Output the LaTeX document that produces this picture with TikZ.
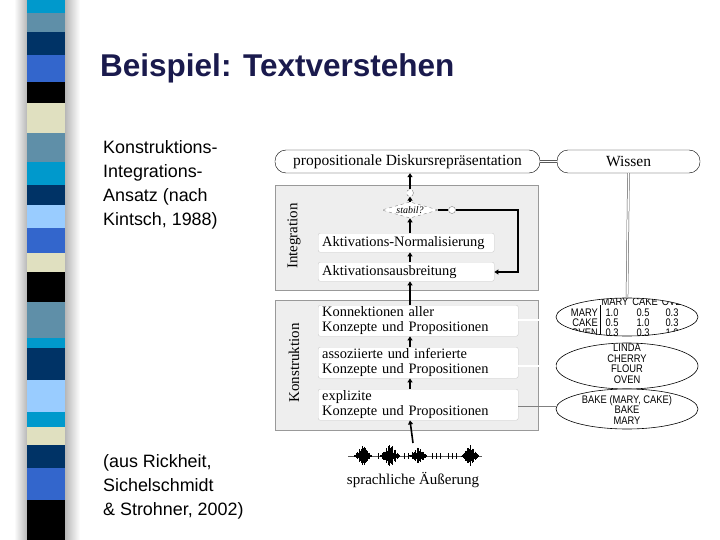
\documentclass[tikz,border=0pt]{standalone}
\usepackage{fontspec}
\setmainfont{Liberation Serif}
\newfontfamily\arial{Liberation Sans}
\usetikzlibrary{shapes.geometric,arrows.meta}
\definecolor{cya}{HTML}{0099CC}
\definecolor{stl}{HTML}{5F8FA8}
\definecolor{nav}{HTML}{003366}
\definecolor{blu}{HTML}{3366CC}
\definecolor{crm}{HTML}{E0E0C0}
\definecolor{lbl}{HTML}{99CCFF}
\definecolor{ttl}{HTML}{1A1A4D}
\definecolor{gbox}{HTML}{EEEEEE}
\tikzset{
  stage/.style={draw=gray!80,fill=gbox,line width=0.7pt},
  wbox/.style={draw=gray!40,fill=white,rounded corners=2pt,align=left,inner sep=0pt,inner xsep=4pt,font=\fontsize{14.4}{15}\selectfont},
  top/.style={draw,rounded corners=11pt,fill=white,font=\fontsize{15.5}{16}\selectfont},
  arr/.style={line width=1.6pt,-{Triangle[length=4pt,width=5pt]}},
  ell/.style={draw,ellipse,line width=0.6pt},
  dbl/.style={double,double distance=1.4pt,draw=gray!70!black,line width=0.5pt},
  side/.style={font=\arial\fontsize{17.9}{24}\selectfont,align=left,anchor=north west,inner sep=0pt},
  etext/.style={font=\arial\fontsize{11}{10.5}\selectfont,inner sep=0pt,xscale=0.85}
}
\begin{document}
\begin{tikzpicture}[x=1pt,y=-1pt]
\useasboundingbox (0,0) rectangle (720,540);
\fill[white] (0,0) rectangle (720,540);
% stripe bar
\shade[left color=white,right color=gray!60] (14,0) rectangle (28,540);
\shade[left color=gray!60,right color=white] (64,0) rectangle (80,540);
\foreach \a/\b/\c in {0/13/cya,13/32/stl,32/55/nav,55/82/blu,82/103/black,103/133/crm,133/162/stl,162/185/cya,185/205/nav,205/228/lbl,228/253/blu,253/272/crm,272/302/black,302/338/stl,338/348/cya,348/380/nav,380/412/lbl,412/427/cya,427/445/crm,445/468/nav,468/500/blu,500/540/black}
  \fill[\c] (27,\a) rectangle (65,\b);
% title
\node[anchor=west,font=\arial\bfseries\fontsize{31.5}{33}\selectfont,text=ttl,inner sep=0pt] (title) at (100,68) {Beispiel: Textverstehen};
\node[side] (lt) at (103,140) {Konstruktions-\\Integrations-\\Ansatz (nach\\Kintsch, 1988)};
\node[side] (lb) at (103,454) {(aus Rickheit,\\Sichelschmidt\\\& Strohner, 2002)};
% stages
\node[stage,minimum width=263,minimum height=105,anchor=north west] (integ) at (275,185) {};
\node[stage,minimum width=263,minimum height=130,anchor=north west] (konst) at (275,300) {};
\node[rotate=90,font=\fontsize{15}{16}\selectfont] (il) at (294,236) {Integration};
\node[rotate=90,font=\fontsize{15}{16}\selectfont] (kl) at (294,363) {Konstruktion};
% top boxes
\node[top,minimum width=265,minimum height=23] (pdr) at (407.5,161.5) {propositionale Diskursrepräsentation};
\node[top,minimum width=143,minimum height=23] (wis) at (628.5,161.5) {Wissen};
\draw[dbl] (pdr.east) -- (wis.west);
% integration
\node[wbox,text width=168,minimum height=19,anchor=north west] (norm) at (318,233) {Aktivations-Normalisierung};
\node[wbox,text width=168,minimum height=19,anchor=north west] (ausb) at (318,262) {Aktivationsausbreitung};
\node[draw=gray,dashed,diamond,aspect=3.5,inner sep=0.5pt,fill=white,font=\itshape\fontsize{10}{10}\selectfont] (dia) at (410,210) {stabil?};
\node[draw=gray,dashed,circle,minimum size=7pt,inner sep=0pt,fill=white] (c1) at (410,193) {};
\node[draw=gray,circle,minimum size=7pt,inner sep=0pt,fill=white] (c2) at (452,210) {};
\draw[line width=1.2pt] (dia.east) -- (c2.west);
\draw[arr] (c2.east) -- (518,210) -- (518,272) -- (ausb.east|-0,272);
\draw[arr] (dia.north) -- (c1.south);
\draw[arr] (c1.north) -- (pdr.south-|c1);
\draw[arr] (norm.north-|dia) -- (dia.south);
\draw[arr] (ausb.north-|dia) -- (norm.south-|dia);
% konstruktion
\node[wbox,text width=192,minimum height=31,anchor=north west] (kon) at (318,305) {Konnektionen aller\\Konzepte und Propositionen};
\node[wbox,text width=192,minimum height=31,anchor=north west] (ass) at (318,347) {assoziierte und inferierte\\Konzepte und Propositionen};
\node[wbox,text width=192,minimum height=31,anchor=north west] (exp) at (318,389) {explizite\\Konzepte und Propositionen};
\draw[arr] (kon.north-|dia) -- (ausb.south-|dia);
\draw[arr] (ass.north-|dia) -- (kon.south-|dia);
\draw[arr] (exp.north-|dia) -- (ass.south-|dia);
% ellipses
\node[ell,minimum width=142,minimum height=38,fill=white] (e1) at (627,317) {};
\node[ell,minimum width=142,minimum height=46,fill=white] (e2) at (627,366) {};
\node[ell,minimum width=142,minimum height=40,fill=white] (e3) at (627,409) {};
\begin{scope}
\clip (627,317) ellipse (71 and 19);
\foreach \t/\x in {MARY/615,CAKE/645,OVEN/675} \node[etext] at (\x,302) {\t};
\foreach \t/\y in {MARY/313,CAKE/323,OVEN/333} \node[etext,anchor=east] at (598,\y) {\t};
\foreach \a/\b/\c/\y in {1.0/0.5/0.3/313,0.5/1.0/0.3/323,0.3/0.3/1.0/333}{
  \node[etext] at (612,\y) {\a};
  \node[etext] at (643,\y) {\b};
  \node[etext] at (672,\y) {\c};
}
\draw[line width=0.5pt] (600,305) -- (600,340);
\end{scope}
\begin{scope}
\clip (627,366) ellipse (71 and 23);
\node[etext,align=center] at (627,364) {LINDA\\CHERRY\\FLOUR\\OVEN};
\end{scope}
\node[etext,align=center] (e3t) at (627,410) {BAKE (MARY, CAKE)\\BAKE\\MARY};
\draw[dbl] (wis.south) -- (e1.north);
\draw[dbl] (kon.east|-0,320) -- (e1.west|-0,320);
\draw[dbl,draw=gray] (ass.east|-0,366) -- (e2.west);
\draw[gray,line width=0.7pt] (exp.east|-0,406) -- (e3.west|-0,406);
% waveform
\draw[gray!70!black,line width=0.5pt] (348,456) -- (482,456);
\foreach \c/\w/\a in {363/7/11,390/8/12,418/7/9,470/7/11}{
  \foreach \k in {-14,...,14}{
    \pgfmathsetmacro{\h}{\a*(1-abs(\k)/15)*(0.35+0.65*abs(sin(\k*137+\c)))}
    \draw[black,line width=0.6pt] (\c+\k*0.6*\w/7,456-\h) -- (\c+\k*0.6*\w/7,456+0.9*\h);
  }
}
\foreach \x in {378,382,386,404,408,432,436,440,448,452,456}{
  \draw[black,line width=0.5pt] (\x,453) -- (\x,459);
}
\node[font=\fontsize{15}{16}\selectfont] (spr) at (413,480) {sprachliche Äußerung};
\draw[arr] (413,443) -- (exp.south-|dia);
\end{tikzpicture}
\end{document}
